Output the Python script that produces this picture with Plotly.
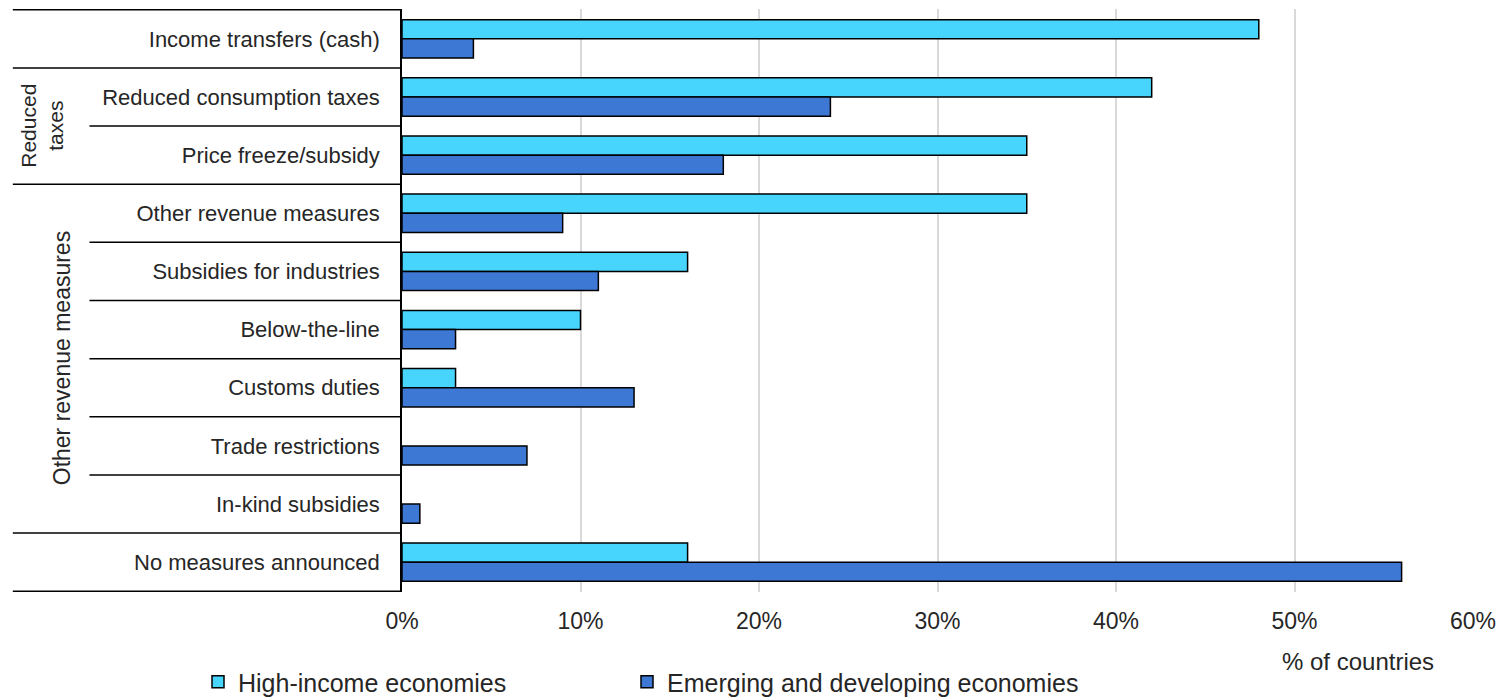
import plotly.graph_objects as go

categories = [
    "Income transfers (cash)",
    "Reduced consumption taxes",
    "Price freeze/subsidy",
    "Other revenue measures",
    "Subsidies for industries",
    "Below-the-line",
    "Customs duties",
    "Trade restrictions",
    "In-kind subsidies",
    "No measures announced",
]
high_income = [48, 42, 35, 35, 16, 10, 3, 0, 0, 16]
emerging = [4, 24, 18, 9, 11, 3, 13, 7, 1, 56]
series_names = ["High-income economies", "Emerging and developing economies"]
x_ticks = [0, 10, 20, 30, 40, 50, 60]
x_tick_labels = ["0%", "10%", "20%", "30%", "40%", "50%", "60%"]
groups = [("Reduced<br>taxes", 1.5), ("Other revenue measures", 5.5)]

FONT = "Liberation Sans, Arial, sans-serif"
TXT = "#262626"

def outline(vals):
    return [0 if v == 0 else 1.5 for v in vals]

fig = go.Figure()
fig.add_trace(go.Bar(y=categories, x=high_income, orientation="h", name=series_names[0],
                     legend="legend",
                     marker=dict(color="#47D4FD", line=dict(color="black", width=outline(high_income)))))
fig.add_trace(go.Bar(y=categories, x=emerging, orientation="h", name=series_names[1],
                     legend="legend2",
                     marker=dict(color="#3D78D4", line=dict(color="black", width=outline(emerging)))))

W, H = 1505, 697
L, R, T, B = 402, 27, 9, 105
pw = W - L - R

def px2paper(px):
    return (px - L) / pw

shapes = []
full = [-0.5, 0.5, 2.5, 8.5, 9.5]
inner = [1.5, 3.5, 4.5, 5.5, 6.5, 7.5]
for yv in full:
    shapes.append(dict(type="line", xref="paper", yref="y", x0=px2paper(11), x1=0,
                       y0=yv, y1=yv, line=dict(color="black", width=1.5)))
for yv in inner:
    shapes.append(dict(type="line", xref="paper", yref="y", x0=px2paper(88), x1=0,
                       y0=yv, y1=yv, line=dict(color="black", width=1.5)))

annotations = [
    dict(text=groups[0][0], xref="paper", yref="y", x=px2paper(40), y=groups[0][1],
         textangle=-90, showarrow=False, font=dict(family=FONT, size=21, color=TXT),
         xanchor="center", yanchor="middle"),
    dict(text=groups[1][0], xref="paper", yref="y", x=px2paper(60), y=groups[1][1],
         textangle=-90, showarrow=False, font=dict(family=FONT, size=23, color=TXT),
         xanchor="center", yanchor="middle"),
    dict(text="% of countries", xref="paper", yref="paper", x=px2paper(1362),
         y=(592 - 661) / (H - T - B), showarrow=False,
         font=dict(family=FONT, size=24, color=TXT), xanchor="center", yanchor="middle"),
]

leg_common = dict(orientation="h", xref="container", yref="container",
                  xanchor="left", yanchor="middle", bgcolor="rgba(0,0,0,0)",
                  font=dict(family=FONT, size=25, color=TXT))

fig.update_layout(
    width=W, height=H,
    margin=dict(l=L, r=R, t=T, b=B, pad=0),
    paper_bgcolor="white", plot_bgcolor="white",
    barmode="group", bargap=0.34, bargroupgap=0,
    font=dict(family=FONT, color=TXT),
    xaxis=dict(range=[0, 60], tickvals=x_ticks, ticktext=x_tick_labels,
               showgrid=True, gridcolor="#D9D9D9", gridwidth=1.5,
               zeroline=False, showline=False, ticks="",
               tickfont=dict(family=FONT, size=23, color=TXT), ticklabelstandoff=13),
    yaxis=dict(autorange="reversed", showgrid=False, showline=True, linecolor="black",
               linewidth=1.5, ticks="", tickfont=dict(family=FONT, size=22, color=TXT),
               ticklabelstandoff=16),
    showlegend=True,
    legend=dict(x=198 / W, y=(H - 682) / H, **leg_common),
    legend2=dict(x=627 / W, y=(H - 682) / H, **leg_common),
    shapes=shapes,
    annotations=annotations,
)

fig.write_html("out.html")
